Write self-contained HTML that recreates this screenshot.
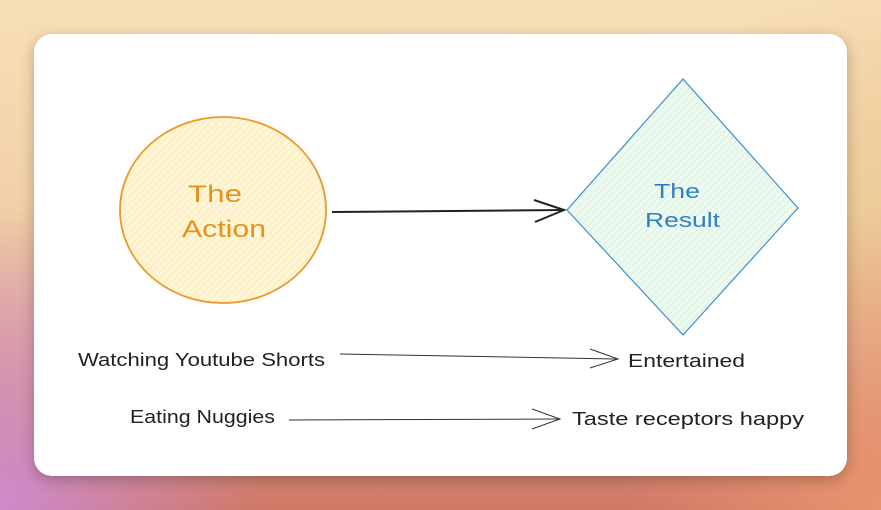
<!DOCTYPE html>
<html><head><style>
html,body{margin:0;padding:0;}
body{width:881px;height:510px;overflow:hidden;position:relative;
background:linear-gradient(180deg,#f8dfb8 0%,#f1d0a8 40%,#dc9c84 75%,#cf7866 100%);}
.ov{position:absolute;inset:0;background:
radial-gradient(ellipse 260px 300px at 0% 100%,rgba(205,140,215,0.9),rgba(205,140,215,0) 100%),
radial-gradient(ellipse 260px 300px at 100% 100%,rgba(235,150,110,0.9),rgba(235,150,110,0) 100%),
radial-gradient(ellipse 200px 250px at 100% 40%,rgba(235,200,140,0.6),rgba(235,200,140,0) 100%);}
.card{position:absolute;left:34px;top:34px;width:813px;height:442px;background:#fff;border-radius:18px;box-shadow:0 4px 14px rgba(0,0,0,0.25);}
svg{position:absolute;left:0;top:0;}
text{font-family:"Liberation Sans",sans-serif;}
</style></head><body>
<div class="ov"></div>
<div class="card"></div>
<svg width="881" height="510">
<defs>
<pattern id="h1" width="5" height="5" patternUnits="userSpaceOnUse" patternTransform="rotate(45)">
<rect width="5" height="5" fill="#fff6d8"/><line x1="0" y1="0" x2="0" y2="5" stroke="#fbe39c" stroke-width="1.2"/></pattern>
<pattern id="h2" width="5" height="5" patternUnits="userSpaceOnUse" patternTransform="rotate(45)">
<rect width="5" height="5" fill="#eefaf0"/><line x1="0" y1="0" x2="0" y2="5" stroke="#c9efd2" stroke-width="1.2"/></pattern>
</defs>
<ellipse cx="223" cy="210" rx="103" ry="93" fill="url(#h1)" stroke="#eb9a2a" stroke-width="1.8"/>
<polygon points="683,79 798,208 683,335 567,210" fill="url(#h2)" stroke="#3b8fd0" stroke-width="1.2"/>
<text x="188" y="202" font-size="24" fill="#e8901c" textLength="54" lengthAdjust="spacingAndGlyphs">The</text>
<text x="182" y="237" font-size="24" fill="#e8901c" textLength="84" lengthAdjust="spacingAndGlyphs">Action</text>
<text x="654" y="198" font-size="20" fill="#2f7fc8" textLength="46" lengthAdjust="spacingAndGlyphs">The</text>
<text x="645" y="227" font-size="20" fill="#2f7fc8" textLength="75" lengthAdjust="spacingAndGlyphs">Result</text>
<path d="M332 212 L564 210" stroke="#222" stroke-width="2" fill="none"/>
<path d="M534 200 L564 210 L535 222" stroke="#222" stroke-width="2" fill="none"/>
<path d="M340 354 L616 359" stroke="#333" stroke-width="1" fill="none"/>
<path d="M590 349 L618 359 L590 368" stroke="#333" stroke-width="1" fill="none"/>
<path d="M289 420 L560 419" stroke="#333" stroke-width="1" fill="none"/>
<path d="M532 409 L560 419 L532 429" stroke="#333" stroke-width="1" fill="none"/>
<g font-size="18" fill="#222">
<text x="78" y="366" textLength="247" lengthAdjust="spacingAndGlyphs">Watching Youtube Shorts</text>
<text x="628" y="367" textLength="117" lengthAdjust="spacingAndGlyphs">Entertained</text>
<text x="130" y="423" textLength="145" lengthAdjust="spacingAndGlyphs">Eating Nuggies</text>
<text x="572" y="425" textLength="232" lengthAdjust="spacingAndGlyphs">Taste receptors happy</text>
</g>
</svg>
</body></html>
